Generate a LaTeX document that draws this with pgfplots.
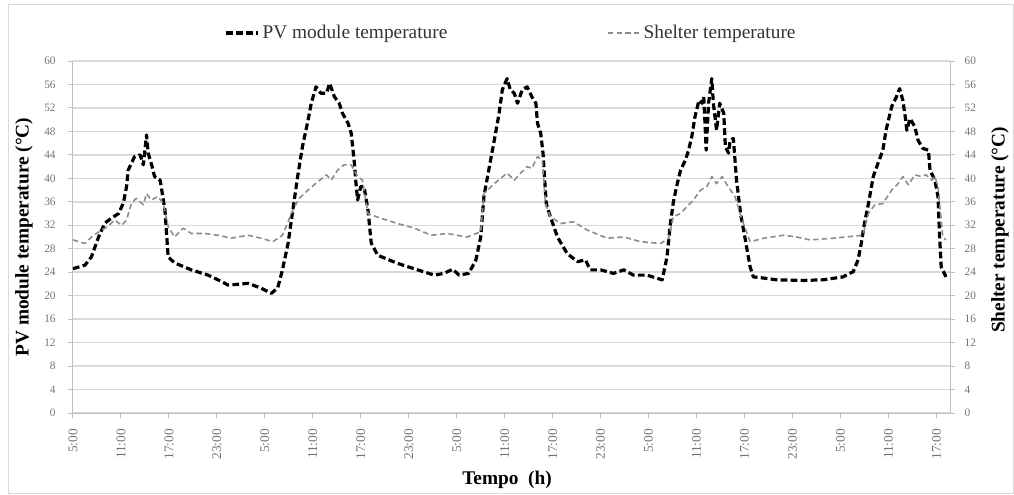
\documentclass[border=0pt]{standalone}
\usepackage{fontspec}
\setmainfont{Liberation Serif}
\usepackage{pgfplots}
\pgfplotsset{compat=1.18}
\definecolor{gridc}{HTML}{D9D9D9}
\definecolor{axc}{HTML}{BFBFBF}
\definecolor{tickc}{HTML}{737373}
\definecolor{shc}{HTML}{8C8C8C}

\pgfplotstableread{
h T
0 24.6
1.5 25.2
2.3 26.6
3.2 30
4.0 32.4
4.8 33.2
5.7 34
6.3 35.8
6.7 38.6
6.9 41.4
7.7 43.7
8.4 44
8.8 42.3
9.2 47.4
9.4 44.3
9.9 42
10.2 40.3
10.9 39.7
11.1 38
11.3 36.3
11.5 34.6
11.7 30.7
11.9 26.6
12.7 25.6
14.8 24.4
16.9 23.5
18.6 22.4
19.4 21.8
21.9 22.1
23.5 21.3
24.8 20.4
25.6 21.3
26.2 24.4
26.9 28.9
27.5 34.6
28.1 40.3
28.7 45.4
29.4 49.9
29.8 52.8
30.4 55.6
31.0 54.5
31.7 54.5
32.1 56.2
32.7 53.9
33.3 52.8
33.7 51.1
34.4 49.4
34.8 47.7
35.2 42.6
35.4 39.1
35.6 36.3
36.0 38.6
36.4 38.6
36.9 34.6
37.3 29
38.1 26.9
40.6 25.5
43.1 24.4
45.2 23.5
46.4 23.8
47.5 24.5
48.3 23.5
49.5 23.8
50.4 26.1
51.0 30
51.4 36.9
52.0 41.4
52.7 46.5
53.3 51.1
53.7 55.1
54.3 57
54.7 55.1
55.2 54.5
55.6 52.8
56.2 55.1
56.8 55.6
57.4 53.9
57.9 52.8
58.1 49.4
58.5 47.7
58.8 44.2
59.0 39.7
59.2 35.7
59.7 33.5
60.6 30
61.8 27.2
63.1 25.8
64.1 26.1
64.7 24.4
66.0 24.4
67.6 23.8
68.9 24.4
70.1 23.5
71.8 23.5
73.7 22.7
74.3 26.6
74.7 32
75.1 36
75.5 38.6
76.0 41.4
76.6 43.1
77.0 44.8
77.4 47.1
77.8 50.5
78.3 53.3
78.7 52.8
78.9 53.9
79.2 44.8
79.5 52.8
79.9 57.0
80.1 52.8
80.5 48.2
80.9 52.8
81.4 51.1
81.6 45.4
82.0 44.3
82.2 46.5
82.6 46.8
83.0 39.7
83.5 34
84.1 29.5
84.7 24.9
85.1 23.2
86.4 23
88.0 22.7
91.4 22.6
93.8 22.7
96.3 23.2
97.6 24.1
98.2 26.1
98.6 28.9
99.0 32.3
99.5 35.7
100.1 40.3
100.7 42.6
101.3 44.8
101.7 48.2
102.4 52.2
103.0 53.9
103.4 55.3
103.8 53.3
104.1 50.5
104.3 48.2
104.7 50.2
105.3 48.8
105.7 46.5
106.3 45.1
107.0 44.8
107.2 41.4
107.8 39.7
108.2 36.9
108.4 30
108.6 24.9
109.2 23.2
}\pvdata

\pgfplotstableread{
h T
0 29.5
1.5 28.9
2.3 30
3.6 31.2
4.4 31.8
5.2 32.9
6.1 32
6.7 32.9
7.3 35.7
7.9 36.6
8.8 35.5
9.2 37.4
9.8 36.3
10.6 36.9
11.3 35.7
11.9 31.8
12.7 30
13.8 31.5
14.8 30.6
16.5 30.6
18.1 30.3
19.8 29.8
21.9 30.3
23.5 29.8
25.0 29.2
26.2 30.3
27.5 34.6
28.3 36.6
29.4 38
30.6 39.4
31.7 40.6
32.3 39.7
33.1 41.4
33.9 42.3
34.8 42.3
35.6 40.3
36.2 39.7
36.9 34
38.5 33.2
40.6 32.3
42.7 31.5
44.8 30.3
46.8 30.6
49.3 30
51.0 30.9
51.4 37.4
52.7 39.1
54.3 40.9
55.2 39.7
56.0 40.9
56.8 42
57.4 41.7
58.1 43.7
58.7 43.1
59.1 35.7
59.7 33.5
61.0 32.3
62.6 32.6
64.3 31.2
66.8 29.8
68.9 30
71.0 29.2
73.5 28.9
74.5 29.8
75.1 33.5
76.0 34
76.8 35.2
77.6 36.3
78.5 38
79.3 38.6
79.9 40.3
80.5 39.1
81.2 40.3
81.8 38.9
82.8 36.9
83.7 32.9
84.7 29.2
86.4 29.8
88.9 30.3
90.5 30
92.2 29.5
95.1 29.8
98.8 30.3
99.5 34
100.3 35.5
101.3 35.7
102.4 38
103.2 39.1
103.8 40.3
104.5 38.9
105.3 40.6
106.1 40.3
106.7 40.6
107.4 39.7
107.8 40.3
108.2 38.6
108.8 30
109.2 29.5
}\shdata

\begin{document}
\begin{tikzpicture}
\path[use as bounding box] (0,0) rectangle (760.5pt,370.5pt);
\draw[gridc, line width=0.75pt] (6pt,0.4pt) rectangle (760.1pt,366.75pt);
\begin{axis}[
  at={(54.75pt,60.75pt)}, anchor=south west,
  scale only axis, width=657.75pt, height=264pt,
  xmin=0, xmax=109.7, ymin=0, ymax=60,
  axis y line*=left, axis x line*=bottom,
  axis line style={axc, line width=0.75pt},
  tick style={axc, line width=0.75pt},
  tick align=outside, major tick length=3.5pt,
  ytick={0,4,...,60},
  xtick={0,6,...,108},
  xticklabels={5:00,11:00,17:00,23:00,5:00,11:00,17:00,23:00,5:00,11:00,17:00,23:00,5:00,11:00,17:00,23:00,5:00,11:00,17:00},
  /pgf/number format/assume math mode=true,
  yticklabel style={xshift=-6pt, font=\fontsize{8.5}{9}\selectfont, text=tickc},
  xticklabel shift=5pt,
  xticklabel style={rotate=90, anchor=east, font=\fontsize{10}{11}\selectfont, text=tickc},
  ymajorgrids, grid style={gridc, line width=1.1pt},
  every axis y label/.style={at={(axis description cs:-0.056,0.5)}, rotate=90, anchor=center},
  ylabel={\bfseries PV module temperature (°C)},
  ylabel style={font=\fontsize{14.5}{16}\selectfont},
  every axis x label/.style={at={(axis description cs:0.495,-0.19)}, anchor=center},
  xlabel={\bfseries Tempo~ (h)},
  xlabel style={font=\fontsize{14.5}{16}\selectfont},
  legend columns=2,
  legend style={at={(axis description cs:0.5,1)}, anchor=center, yshift=21pt, draw=none, fill=none,
    font=\fontsize{14.5}{16}\selectfont, text=black!80,
    /tikz/every even column/.append style={column sep=118pt}},
  legend image code/.code={\draw[#1] (0pt,0pt) -- (24pt,0pt);},
]
\addplot[black, line width=2.4pt, dash pattern=on 5pt off 2.5pt, line join=round] table[x=h,y=T] {\pvdata};
\addlegendentry{PV module temperature}
\addplot[shc, line width=1.2pt, dash pattern=on 4pt off 2.5pt, line join=round] table[x=h,y=T] {\shdata};
\addlegendentry{Shelter temperature}
\end{axis}
\begin{axis}[
  at={(54.75pt,60.75pt)}, anchor=south west,
  scale only axis, width=657.75pt, height=264pt,
  xmin=0, xmax=109.7, ymin=0, ymax=60,
  axis y line*=right, axis x line=none,
  axis line style={axc, line width=0.75pt},
  tick style={axc, line width=0.75pt},
  tick align=outside, major tick length=3.5pt,
  ytick={0,4,...,60},
  /pgf/number format/assume math mode=true,
  yticklabel style={xshift=4pt, font=\fontsize{8.5}{9}\selectfont, text=tickc},
  every axis y label/.style={at={(axis description cs:1.057,0.52)}, rotate=90, anchor=center},
  ylabel={\bfseries Shelter temperature (°C)},
  ylabel style={font=\fontsize{14.5}{16}\selectfont},
]
\end{axis}
\end{tikzpicture}
\end{document}
